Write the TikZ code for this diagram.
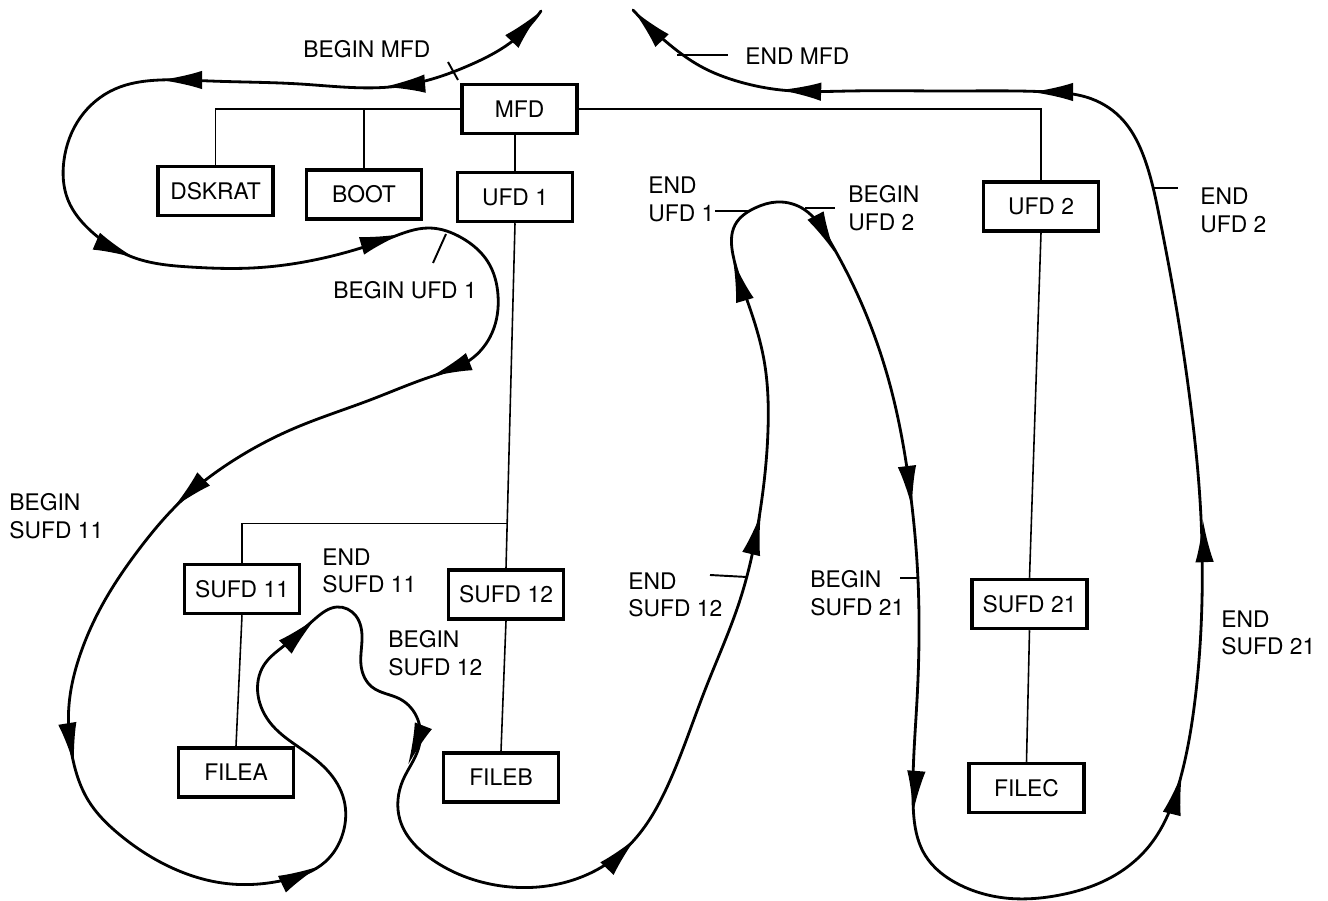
\documentclass[tikz,border=0pt]{standalone}
\usepackage{fontspec}
\setmainfont{TeX Gyre Heros}
\usetikzlibrary{arrows.meta,calc,hobby}
\begin{document}
\begin{tikzpicture}[x=0.02cm,y=-0.02cm,
  font=\fontsize{13pt}{15.9pt}\selectfont,
  box/.style={draw, line width=2pt, minimum width=2.3cm, minimum height=0.98cm, inner sep=0pt},
  tree/.style={line width=0.9pt},
  walk/.style={line width=1.6pt, line join=round, line cap=round},
  tipw/.style={line width=1.6pt, -{Latex[length=24pt,width=10.5pt]}},
  tick/.style={line width=1.1pt},
  lab/.style={anchor=north west, inner sep=0pt, align=left}]
\useasboundingbox (0,0) rectangle (1328,901);

% boxes
\node[box] (mfd)    at (519.5,109)  {MFD};
\node[box] (dskrat) at (215.5,191)  {DSKRAT};
\node[box] (boot)   at (364,194.5)  {BOOT};
\node[box] (ufd1)   at (515,197)    {UFD 1};
\node[box] (ufd2)   at (1041,206.5) {UFD 2};
\node[box] (sufd11) at (242,589)    {SUFD 11};
\node[box] (sufd12) at (506,594.5)  {SUFD 12};
\node[box] (sufd21) at (1029.5,604) {SUFD 21};
\node[box] (filea)  at (236,772.5)  {FILEA};
\node[box] (fileb)  at (501,777.5)  {FILEB};
\node[box] (filec)  at (1026.5,788) {FILEC};

% tree
\draw[tree] (mfd.west) -| (dskrat.north);
\draw[tree] (boot.north) -- (boot.north |- mfd.west);
\draw[tree] (mfd.east) -| (ufd2.north);
\draw[tree] (ufd1.north) -- (ufd1.north |- mfd.south);
\draw[tree] (ufd1.south) -- (sufd12.north);
\coordinate (j1) at ($(ufd1.south)!0.87!(sufd12.north)$);
\draw[tree] (j1) -| (sufd11.north);
\draw[tree] (sufd11.south) -- (filea.north);
\draw[tree] (sufd12.south) -- (fileb.north);
\draw[tree] (ufd2.south) -- (sufd21.north);
\draw[tree] (sufd21.south) -- (filec.north);

% traversal path
\draw[walk, use Hobby shortcut] (541,11) .. (510,43) .. (470,65) .. (425,81) .. (390,87) .. (300,84)
 .. (210,81) .. (160,80) .. (115,89) .. (80,118) .. (64,160) .. (68,200) .. (92,232) .. (135,258)
 .. (190,267) .. (252,268) .. (328,257) .. (390,238) .. (429,228) .. (462,238) .. (488,262) .. (498,295)
 .. (492,333) .. (470,360) .. (430,377) .. (370,400) .. (295,428) .. (231,462) .. (180,502) .. (140,548)
 .. (105,600) .. (80,655) .. (69,705) .. (73,760) .. (88,800) .. (120,835) .. (168,866) .. (231,884)
 .. (285,880) .. (325,862) .. (343,833) .. (344,800) .. (327,770) .. (300,748) .. (272,725) .. (258,695)
 .. (264,665) .. (285,645) .. (316,618) .. (337,607) .. (356,616) .. (362,640) .. (361,665) .. (372,687)
 .. (400,699) .. (418,720) .. (418,750) .. (403,780) .. (400,820) .. (430,858) .. (490,884) .. (547,886)
 .. (605,865) .. (640,833) .. (668,785) .. (705,690) .. (740,600) .. (760,512) .. (768,430) .. (764,360)
 .. (747,300) .. (733,255) .. (735,225) .. (755,208) .. (777,202) .. (805,210) .. (828,238) .. (860,300)
 .. (890,385) .. (910,490) .. (918,580) .. (917,700) .. (913,800) .. (925,855) .. (960,885) .. (1005,898)
 .. (1060,895) .. (1110,878) .. (1150,845) .. (1180,780) .. (1195,700) .. (1202,600) .. (1200,500)
 .. (1190,400) .. (1175,300) .. (1160,220) .. (1145,160) .. (1120,117) .. (1086,97) .. (1050,92)
 .. (950,91) .. (850,91) .. (781,90) .. (740,82) .. (700,66) .. (670,45) .. (633,10);

% arrow heads along the path
\draw[tipw] (520,33) -- (541,11);
\draw[tipw] (408,85) -- (383,87);
\draw[tipw] (185,80) -- (160,80);
\draw[tipw] (112,248) -- (135,258);
\draw[tipw] (378,241) -- (402,234);
\draw[tipw] (453,368) -- (430,377);
\draw[tipw] (192,490) -- (173,508);
\draw[tipw] (70,740) -- (74,765);
\draw[tipw] (297,877) -- (320,866);
\draw[tipw] (297,636) -- (316,618);
\draw[tipw] (417,742) -- (408,765);
\draw[tipw] (618,857) -- (636,838);
\draw[tipw] (755,538) -- (761,513);
\draw[tipw] (740,284) -- (733,260);
\draw[tipw] (823,230) -- (835,253);
\draw[tipw] (909,483) -- (912,508);
\draw[tipw] (915,788) -- (913,813);
\draw[tipw] (1176,797) -- (1182,773);
\draw[tipw] (1204,547) -- (1203,520);
\draw[tipw] (1056,92) -- (1031,92);
\draw[tipw] (804,91) -- (779,90);
\draw[tipw] (652,30) -- (633,10);

% ticks
\draw[tick] (448,62) -- (458,80);
\draw[tick] (677,55) -- (728,55);
\draw[tick] (433,263) -- (446,234);
\draw[tick] (715,211) -- (748,211);
\draw[tick] (805,208) -- (835,208);
\draw[tick] (1152,188) -- (1178,188);
\draw[tick] (710,575) -- (747,577);
\draw[tick] (900,578) -- (918,578);

% labels
\node[lab] (lbmfd)  at (303,40)  {BEGIN MFD};
\node[lab] (lemfd)  at (745,48)  {END MFD};
\node[lab] (lbufd1) at (333,281) {BEGIN UFD 1};
\node[lab] (leufd1) at (648,177) {END\\UFD 1};
\node[lab] (lbufd2) at (848,185) {BEGIN\\UFD 2};
\node[lab] (leufd2) at (1200,188) {END\\UFD 2};
\node[lab] (lbs11)  at (9,493)   {BEGIN\\SUFD 11};
\node[lab] (les11)  at (322,548) {END\\SUFD 11};
\node[lab] (lbs12)  at (388,630) {BEGIN\\SUFD 12};
\node[lab] (les12)  at (628,572) {END\\SUFD 12};
\node[lab] (lbs21)  at (810,570) {BEGIN\\SUFD 21};
\node[lab] (les21)  at (1221,610) {END\\SUFD 21};
\end{tikzpicture}
\end{document}
